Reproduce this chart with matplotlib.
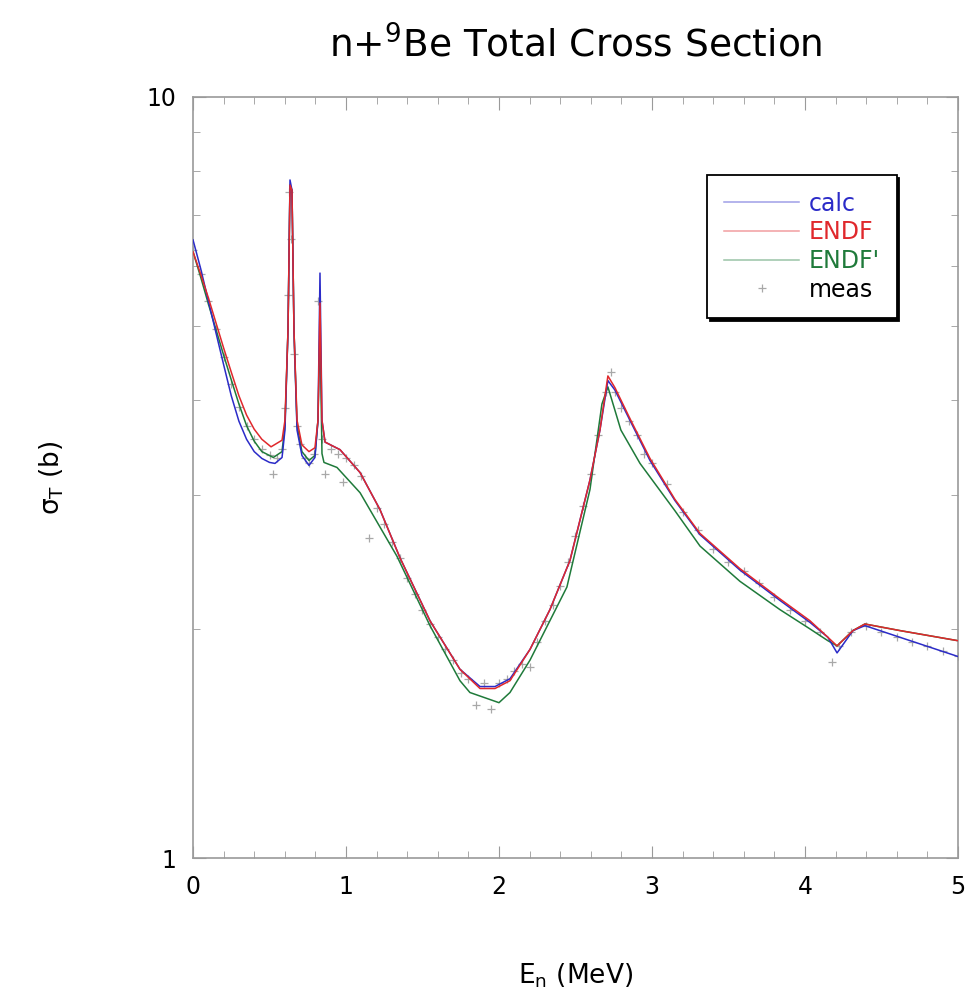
import matplotlib
matplotlib.use("Agg")
import matplotlib.pyplot as plt
from matplotlib.ticker import FixedLocator, NullFormatter, MultipleLocator

# --- data (E in MeV, sigma in barns) ---
calc_e = [0.00, 0.05, 0.10, 0.15, 0.20, 0.25, 0.30, 0.35, 0.40, 0.45, 0.50, 0.536, 0.582,
          0.601, 0.621, 0.634, 0.647,
          0.660, 0.680, 0.712, 0.758, 0.797, 0.817, 0.830, 0.843, 0.863, 0.961, 1.092, 1.222,
          1.353, 1.549, 1.745, 1.876, 1.974, 2.072, 2.203, 2.333, 2.464, 2.595, 2.660, 2.712,
          2.758, 2.856, 2.987, 3.150, 3.314, 3.575, 3.837, 4.033, 4.150, 4.210, 4.314, 4.392,
          4.621, 5.00]
calc_s = [6.49, 5.95, 5.40, 4.90, 4.45, 4.05, 3.75, 3.55, 3.42, 3.35, 3.31, 3.30, 3.36,
          3.65, 4.94, 7.78, 7.54,
          4.94, 3.65, 3.38, 3.28, 3.36, 3.76, 5.87, 3.76, 3.52, 3.44, 3.21, 2.87,
          2.48, 2.05, 1.77, 1.68, 1.68, 1.72, 1.88, 2.12, 2.46, 3.14, 3.65, 4.24,
          4.12, 3.76, 3.33, 2.95, 2.66, 2.39, 2.18, 2.04, 1.95, 1.86, 1.99, 2.02,
          1.95, 1.84]

endf_e = [0.00, 0.05, 0.10, 0.15, 0.20, 0.25, 0.30, 0.35, 0.40, 0.45, 0.51, 0.582,
          0.601, 0.621, 0.634, 0.647,
          0.660, 0.680, 0.712, 0.758, 0.797, 0.817, 0.830, 0.843, 0.863, 0.961, 1.092, 1.222,
          1.353, 1.549, 1.745, 1.876, 1.974, 2.072, 2.203, 2.333, 2.464, 2.595, 2.660, 2.712,
          2.758, 2.856, 2.987, 3.150, 3.314, 3.575, 3.837, 4.033, 4.150, 4.210, 4.314, 4.392,
          4.621, 5.00]
endf_s = [6.26, 5.85, 5.45, 5.05, 4.68, 4.35, 4.05, 3.82, 3.66, 3.55, 3.47, 3.54,
          3.76, 4.94, 7.66, 7.54,
          4.94, 3.76, 3.49, 3.42, 3.46, 3.76, 5.36, 3.76, 3.52, 3.44, 3.21, 2.87,
          2.48, 2.05, 1.77, 1.67, 1.67, 1.71, 1.88, 2.12, 2.46, 3.14, 3.65, 4.30,
          4.15, 3.78, 3.35, 2.96, 2.67, 2.40, 2.19, 2.05, 1.95, 1.90, 1.99, 2.03,
          1.99, 1.93]

endfp_e = [0.00, 0.05, 0.10, 0.15, 0.20, 0.25, 0.30, 0.35, 0.40, 0.45, 0.525, 0.582,
           0.601, 0.621, 0.634, 0.647,
           0.660, 0.680, 0.712, 0.758, 0.797, 0.817, 0.830, 0.843, 0.856, 0.941, 1.092, 1.334,
           1.549, 1.745, 1.810, 2.000, 2.072, 2.203, 2.444, 2.595, 2.673, 2.712,
           2.797, 2.922, 3.150, 3.314, 3.575, 3.837, 4.033, 4.150, 4.210, 4.314, 4.392,
           4.621, 5.00]
endfp_s = [6.26, 5.80, 5.35, 4.95, 4.58, 4.25, 3.95, 3.70, 3.53, 3.42, 3.36, 3.42,
           3.70, 4.94, 7.66, 7.54,
           4.94, 3.70, 3.42, 3.33, 3.38, 3.76, 4.95, 3.40, 3.31, 3.26, 3.02, 2.49,
           2.02, 1.71, 1.65, 1.60, 1.65, 1.82, 2.27, 3.05, 3.95, 4.16,
           3.65, 3.30, 2.86, 2.57, 2.31, 2.12, 2.00, 1.93, 1.90, 1.99, 2.03,
           1.99, 1.93]

meas_e = [0.00, 0.05, 0.10, 0.15, 0.20, 0.25, 0.30, 0.35, 0.40, 0.45, 0.50, 0.52, 0.55,
          0.58, 0.60, 0.62, 0.63, 0.64, 0.66, 0.68, 0.70, 0.73, 0.76, 0.79, 0.82, 0.84,
          0.86, 0.90, 0.95, 0.98, 1.00, 1.05, 1.10, 1.15, 1.20, 1.25, 1.30, 1.35, 1.40,
          1.45, 1.50, 1.55, 1.60, 1.65, 1.70, 1.75, 1.80, 1.85, 1.90, 1.95, 2.00, 2.05,
          2.10, 2.15, 2.20, 2.25, 2.30, 2.35, 2.40, 2.45, 2.50, 2.55, 2.60, 2.65, 2.70,
          2.73, 2.76, 2.80, 2.85, 2.90, 2.95, 3.00, 3.10, 3.20, 3.30, 3.40, 3.50, 3.60,
          3.70, 3.80, 3.90, 4.00, 4.10, 4.18, 4.22, 4.30, 4.40, 4.50, 4.60, 4.70, 4.80,
          4.90, 5.00]
meas_s = [6.30, 5.85, 5.40, 4.95, 4.55, 4.20, 3.92, 3.70, 3.55, 3.45, 3.38, 3.20, 3.35,
          3.45, 3.90, 5.50, 7.50, 6.50, 4.60, 3.70, 3.50, 3.35, 3.30, 3.40, 5.40, 3.55,
          3.20, 3.45, 3.40, 3.12, 3.35, 3.28, 3.18, 2.63, 2.88, 2.75, 2.60, 2.48, 2.33,
          2.22, 2.12, 2.03, 1.95, 1.88, 1.82, 1.75, 1.72, 1.59, 1.70, 1.57, 1.70, 1.72,
          1.76, 1.80, 1.78, 1.92, 2.05, 2.15, 2.28, 2.45, 2.65, 2.90, 3.20, 3.60, 4.10,
          4.35, 4.10, 3.90, 3.75, 3.60, 3.40, 3.30, 3.10, 2.85, 2.70, 2.55, 2.45, 2.38,
          2.30, 2.20, 2.12, 2.05, 1.98, 1.81, 1.90, 1.98, 2.02, 1.98, 1.95, 1.92, 1.90,
          1.87, 1.84]

labels = ["calc", "ENDF", "ENDF'", "meas"]
colours = ["#2b2bc8", "#e0282c", "#1f7a3a", "#000000"]

fig = plt.figure(figsize=(9.67, 10.02), dpi=100)
ax = fig.add_axes([0.1996, 0.1437, 0.791, 0.7595])

ax.plot(meas_e, meas_s, ls="none", marker="+", ms=6, mew=0.9, color="#a8a8a8",
        label=labels[3], zorder=1)
ax.plot(endfp_e, endfp_s, color=colours[2], lw=1.1, label=labels[2], zorder=2)
ax.plot(calc_e, calc_s, color=colours[0], lw=1.1, label=labels[0], zorder=3)
ax.plot(endf_e, endf_s, color=colours[1], lw=1.1, label=labels[1], zorder=4)

ax.set_yscale("log")
ax.set_xlim(0, 5)
ax.set_ylim(1, 10)
ax.xaxis.set_major_locator(MultipleLocator(1))
ax.xaxis.set_minor_locator(MultipleLocator(0.2))
ax.yaxis.set_major_locator(FixedLocator([1, 10]))
ax.yaxis.set_minor_locator(FixedLocator(list(range(2, 10))))
ax.yaxis.set_minor_formatter(NullFormatter())
ax.set_yticklabels(["1", "10"])
ax.tick_params(which="both", direction="in", top=True, right=True, color="#9a9a9a",
               labelsize=17, pad=12)
ax.tick_params(which="major", length=9)
ax.tick_params(which="minor", length=5)
for sp in ax.spines.values():
    sp.set_color("#9a9a9a")
    sp.set_linewidth(1.2)

ax.set_xlabel("E$_\\mathregular{n}$ (MeV)", fontsize=19, labelpad=45)
ax.set_ylabel("σ$_\\mathregular{T}$ (b)", fontsize=19, labelpad=58)
fig.text(0.595, 0.955, "n+$^\\mathregular{9}$Be Total Cross Section", ha="center",
         va="center", fontsize=27)

h, l = ax.get_legend_handles_labels()
order = [2, 3, 1, 0]
leg = ax.legend([h[i] for i in order], [l[i] for i in order],
                loc="upper left", bbox_to_anchor=(0.657, 0.913), fontsize=17,
                fancybox=False, shadow={"color": "black", "alpha": 1.0}, framealpha=1,
                edgecolor="black", handlelength=3.2, handletextpad=0.4,
                labelspacing=0.2, borderpad=0.7,
                labelcolor=colours)
leg.get_frame().set_linewidth(1.3)
for line in leg.get_lines()[:3]:
    line.set_alpha(0.45)

fig.savefig("out.png", dpi=100)
